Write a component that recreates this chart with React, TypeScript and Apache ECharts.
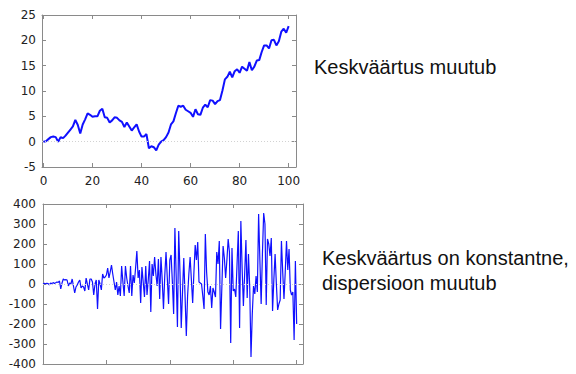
import React, { useEffect, useRef } from "react";
import * as echarts from "echarts";

// Top chart: random walk, mean changes
const topValues: number[] = [
  0, 0.1, 0.5, 0.9, 1.0, 0.9, 0.0, 0.9, 0.7, 1.2,
  1.8, 2.4, 3.0, 4.3, 3.3, 1.6, 3.4, 4.4, 5.6, 5.3,
  4.9, 5.0, 5.0, 6.1, 6.5, 4.8, 4.7, 3.8, 4.2, 4.8,
  4.7, 4.2, 3.9, 2.9, 3.8, 3.0, 2.2, 2.8, 3.4, 2.0,
  1.0, 1.0, 1.5, -1.3, -0.9, -1.1, -1.7, -0.6, 0.0, 0.3,
  0.9, 1.8, 3.4, 4.0, 5.6, 7.1, 6.9, 7.1, 6.3, 6.0,
  5.7, 4.9, 6.4, 5.4, 5.3, 6.7, 7.3, 6.8, 8.2, 8.1,
  7.4, 8.0, 8.2, 10.1, 12.3, 12.8, 13.8, 12.7, 13.9, 14.3,
  13.6, 14.8, 14.4, 14.0, 15.7, 14.1, 14.8, 16.0, 16.1, 17.7,
  19.0, 19.0, 18.4, 20.0, 20.1, 19.0, 19.8, 21.7, 22.3, 21.5,
  22.8,
];

// Bottom chart: constant mean, changing variance
const bottomValues: number[] = [
  0, 3, 1, 4, 2, -4, 5, 2, 7, 3,
  6, 10, 8, 15, -25, 5, 25, 20, 22, 20,
  -10, 5, 0, 25, -10, -45, -15, -5, 10, 20,
  -20, -10, -15, -35, 30, 0, -30, 25, 25, 10,
  -55, 0, 20, -125, 20, 0, -30, 50, 30, 35,
  45, 80, 30, 60, 95, 50, 10, -30, 10, -55,
  -10, -60, 90, 10, -60, 90, 30, -10, -45, 90,
  -60, 45, 5, 80, 165, 30, 70, -95, 85, 10,
  -65, 90, -55, 20, 115, -140, 100, 40, 135, 50,
  -10, 125, -75, 135, 20, -125, 40, 160, 30, -100,
  120, 145, 10, -150, 280, 40, -215, 265, 60, -220,
  -40, 130, -60, -260, -60, 50, 135, 20, -95, 60,
  195, 120, 210, 10, 5, 0, -60, -125, 250, 60,
  -40, -55, -10, -120, -20, -40, -65, 160, 100, 215,
  -225, -20, 190, 130, 30, 120, 225, 160, -295, 180,
  -35, -25, -65, 100, 265, -220, 315, 80, -110, 50,
  220, -70, 150, -20, -365, -150, -10, -50, 40, -40,
  350, 120, -100, 150, 355, 300, -105, 225, 200, 140,
  230, -135, 20, 150, 0, -130, -100, -80, 215, 60,
  -75, 60, 215, 70, 175, -30, -55, -40, -280, 115,
  -200,
];

const topXTicks: number[] = [0, 20, 40, 60, 80, 100];
const bottomXTicks: number[] = [0, 50, 100, 150, 200];

const topTitle = "Keskväärtus muutub";
const bottomTitle1 = "Keskväärtus on konstantne,";
const bottomTitle2 = "dispersioon muutub";

const FRAME = "#8a8a8a";
const LABEL = "#222";
const LINE = "#1010ff";

export default function App() {
  const ref = useRef<HTMLDivElement>(null);

  useEffect(() => {
    if (!ref.current) return;
    const chart = echarts.init(ref.current, undefined, { renderer: "svg" });

    const axisLineStyle = { show: true, onZero: false, lineStyle: { color: FRAME, width: 1 } };
    const tickStyle = (customValues?: number[]) => ({
      show: true,
      inside: true,
      length: 4,
      lineStyle: { color: FRAME, width: 1 },
      ...(customValues ? { customValues } : {}),
    });
    const labelStyle = {
      color: LABEL,
      fontFamily: "DejaVu Sans",
      fontSize: 12,
    };

    const zeroLine = {
      silent: true,
      symbol: ["none", "none"],
      label: { show: false },
      lineStyle: { type: [1, 2], color: "#d2d2d2", width: 1 },
      data: [{ yAxis: 0 }],
    };

    const topData = topValues.map((v, i) => [i, v]);
    const bottomData = bottomValues.map((v, i) => [i, v]);

    chart.setOption({
      animation: false,
      grid: [
        { left: 42, top: 15, width: 254, height: 152 },
        { left: 43, top: 204, width: 260, height: 160 },
      ],
      xAxis: [
        {
          gridIndex: 0, type: "value", min: -0.6, max: 103, position: "bottom",
          axisLine: axisLineStyle, axisTick: tickStyle(topXTicks),
          axisLabel: { ...labelStyle, margin: 8, customValues: topXTicks },
          splitLine: { show: false },
        },
        {
          gridIndex: 0, type: "value", min: -0.6, max: 103, position: "top",
          axisLine: axisLineStyle, axisTick: tickStyle(topXTicks),
          axisLabel: { show: false }, splitLine: { show: false },
        },
        {
          gridIndex: 1, type: "value", min: 0, max: 205, position: "bottom",
          axisLine: axisLineStyle, axisTick: tickStyle(bottomXTicks),
          axisLabel: { show: false }, splitLine: { show: false },
        },
        {
          gridIndex: 1, type: "value", min: 0, max: 205, position: "top",
          axisLine: axisLineStyle, axisTick: tickStyle(bottomXTicks),
          axisLabel: { show: false }, splitLine: { show: false },
        },
      ],
      yAxis: [
        {
          gridIndex: 0, type: "value", min: -5, max: 25, interval: 5, position: "left",
          axisLine: axisLineStyle, axisTick: tickStyle(),
          axisLabel: { ...labelStyle, margin: 6 }, splitLine: { show: false },
        },
        {
          gridIndex: 0, type: "value", min: -5, max: 25, interval: 5, position: "right",
          axisLine: axisLineStyle, axisTick: tickStyle(),
          axisLabel: { show: false }, splitLine: { show: false },
        },
        {
          gridIndex: 1, type: "value", min: -400, max: 400, interval: 100, position: "left",
          axisLine: axisLineStyle, axisTick: tickStyle(),
          axisLabel: { ...labelStyle, margin: 7 }, splitLine: { show: false },
        },
        {
          gridIndex: 1, type: "value", min: -400, max: 400, interval: 100, position: "right",
          axisLine: axisLineStyle, axisTick: tickStyle(),
          axisLabel: { show: false }, splitLine: { show: false },
        },
      ],
      series: [
        {
          type: "line", xAxisIndex: 0, yAxisIndex: 0, data: topData,
          showSymbol: false, symbol: "none",
          lineStyle: { color: LINE, width: 2 },
          markLine: zeroLine, z: 3,
        },
        {
          type: "line", xAxisIndex: 2, yAxisIndex: 2, data: bottomData,
          showSymbol: false, symbol: "none",
          lineStyle: { color: LINE, width: 1.2 },
          markLine: zeroLine, z: 3,
        },
      ],
      graphic: [
        {
          type: "text", left: 314, top: 57,
          style: { text: topTitle, fontFamily: "Liberation Sans", fontSize: 20, fill: "#111" },
        },
        {
          type: "text", left: 322, top: 248,
          style: { text: bottomTitle1, fontFamily: "Liberation Sans", fontSize: 20, fill: "#111" },
        },
        {
          type: "text", left: 322, top: 273,
          style: { text: bottomTitle2, fontFamily: "Liberation Sans", fontSize: 20, fill: "#111" },
        },
      ],
    });

    return () => chart.dispose();
  }, []);

  return (
    <div
      ref={ref}
      style={{ position: "fixed", left: 0, top: 0, width: 576, height: 374, background: "#fff" }}
    />
  );
}
